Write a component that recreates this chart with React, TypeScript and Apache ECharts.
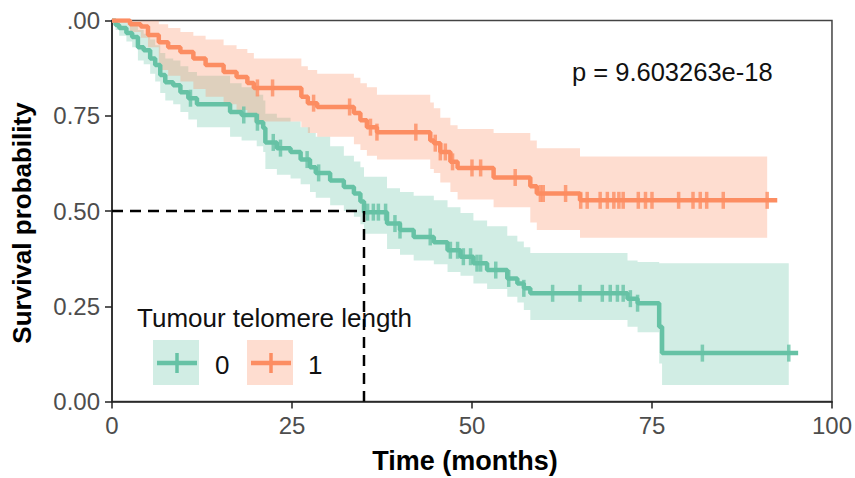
import React, { useEffect, useRef } from "react";
import * as echarts from "echarts";

// ---- Data ----
const xTicks = [0, 25, 50, 75, 100];
const yTicks = [0, 0.25, 0.5, 0.75, 1];

// Group 0 (green): step times, survival, CI upper / lower
const g0Time = [0, 0.5, 1.0, 2.0, 2.8, 3.6, 4.4, 5.3, 6.0, 6.7, 7.4, 8.5, 9.5, 10.6, 11.8, 16.4, 18.0, 20.1, 21.0, 21.3, 22.9, 24.8, 26.2, 27.5, 28.3, 30.3, 32.2, 33.6, 34.5, 35.0, 38.2, 40.0, 41.9, 44.7, 46.6, 48.4, 50.2, 52.1, 54.9, 56.3, 57.2, 58.1, 71.6, 73.0, 76.0, 76.4];
const g0Surv = [1.0, 0.988, 0.98, 0.967, 0.957, 0.93, 0.922, 0.9, 0.883, 0.857, 0.838, 0.83, 0.812, 0.796, 0.78, 0.76, 0.752, 0.733, 0.718, 0.68, 0.665, 0.655, 0.635, 0.615, 0.6, 0.58, 0.563, 0.546, 0.525, 0.497, 0.467, 0.45, 0.432, 0.418, 0.397, 0.38, 0.363, 0.345, 0.323, 0.31, 0.297, 0.284, 0.27, 0.258, 0.196, 0.127];
const g0Upper = [1.0, 1.0, 1.0, 0.995, 0.99, 0.975, 0.965, 0.95, 0.935, 0.915, 0.9, 0.895, 0.88, 0.865, 0.855, 0.835, 0.825, 0.805, 0.79, 0.755, 0.745, 0.735, 0.72, 0.705, 0.695, 0.67, 0.645, 0.63, 0.615, 0.59, 0.56, 0.55, 0.54, 0.528, 0.51, 0.495, 0.475, 0.46, 0.435, 0.42, 0.405, 0.39, 0.37, 0.366, 0.363, 0.363];
const g0Lower = [1.0, 0.975, 0.96, 0.945, 0.93, 0.895, 0.885, 0.86, 0.84, 0.81, 0.79, 0.78, 0.76, 0.74, 0.72, 0.695, 0.685, 0.67, 0.655, 0.61, 0.595, 0.585, 0.57, 0.55, 0.535, 0.515, 0.5, 0.485, 0.465, 0.44, 0.4, 0.385, 0.37, 0.36, 0.34, 0.33, 0.31, 0.295, 0.275, 0.26, 0.24, 0.214, 0.196, 0.182, 0.1, 0.043];
const g0LineEnd = 95.3;
const g0RibbonEnd = 94;
const g0Censor = [10.9, 18.3, 20.2, 22.4, 23.4, 27.1, 28.7, 35.5, 36.3, 37.0, 38.0, 39.3, 40.0, 44.2, 47.0, 48.0, 48.8, 49.8, 50.7, 51.2, 53.3, 55.1, 57.2, 61.2, 65.0, 68.1, 69.2, 70.2, 71.0, 72.0, 73.0, 82.0, 94.0];

// Group 1 (orange)
const g1Time = [0, 2.5, 4.0, 5.0, 6.5, 7.8, 9.5, 11.3, 13.0, 15.5, 17.3, 18.8, 19.7, 26.3, 27.2, 28.5, 33.6, 34.5, 35.4, 36.8, 44.2, 44.7, 45.6, 47.0, 48.0, 53.0, 58.1, 59.0, 65.0];
const g1Surv = [1.0, 0.99, 0.984, 0.962, 0.943, 0.93, 0.917, 0.9, 0.883, 0.865, 0.852, 0.836, 0.823, 0.8, 0.783, 0.773, 0.757, 0.738, 0.72, 0.707, 0.685, 0.678, 0.655, 0.629, 0.613, 0.588, 0.565, 0.546, 0.528];
const g1Upper = [1.0, 1.0, 1.0, 1.0, 0.99, 0.98, 0.97, 0.96, 0.95, 0.935, 0.925, 0.915, 0.9, 0.88, 0.87, 0.86, 0.85, 0.835, 0.825, 0.805, 0.785, 0.77, 0.745, 0.725, 0.715, 0.705, 0.685, 0.665, 0.643];
const g1Lower = [1.0, 0.97, 0.955, 0.93, 0.87, 0.855, 0.84, 0.82, 0.8, 0.78, 0.765, 0.75, 0.735, 0.72, 0.705, 0.695, 0.675, 0.66, 0.645, 0.635, 0.61, 0.6, 0.575, 0.55, 0.53, 0.51, 0.47, 0.45, 0.43];
const g1LineEnd = 92.4;
const g1RibbonEnd = 91;
const g1Censor = [20.2, 22.3, 28.0, 33.0, 35.9, 36.8, 42.2, 44.9, 45.6, 46.3, 47.3, 50.0, 51.2, 56.0, 59.5, 59.9, 63.0, 65.1, 66.0, 67.8, 68.8, 69.7, 70.4, 71.0, 73.1, 74.1, 75.0, 78.7, 80.7, 81.7, 82.6, 84.9, 91.0];

const medianTime = 35;
const medianSurv = 0.5;
const pText = "p = 9.603263e-18";
const legendTitle = "Tumour telomere length";
const groupLabels = ["0", "1"];

const GREEN = "#66C2A5";
const ORANGE = "#FC8D62";
const GREEN_FILL = "rgba(102,194,165,0.3)";
const ORANGE_FILL = "rgba(252,141,98,0.3)";
const FONT = "Liberation Sans, Arial, Helvetica, sans-serif";

function survAt(times: number[], surv: number[], t: number) {
  let v = surv[0];
  for (let i = 0; i < times.length; i++) {
    if (times[i] <= t) v = surv[i];
  }
  return v;
}

function lineData(times: number[], surv: number[], end: number) {
  const d = times.map((t, i) => [t, surv[i]]);
  d.push([end, surv[surv.length - 1]]);
  return d;
}

function ribbon(times: number[], up: number[], lo: number[], end: number, fill: string) {
  return {
    type: "custom",
    data: [[0, 0]],
    clip: true,
    silent: true,
    z: 1,
    renderItem: (_p: any, api: any) => {
      const pts: number[][] = [];
      for (let i = 0; i < times.length; i++) {
        const t1 = i + 1 < times.length ? times[i + 1] : end;
        pts.push(api.coord([times[i], up[i]]));
        pts.push(api.coord([t1, up[i]]));
      }
      for (let i = times.length - 1; i >= 0; i--) {
        const t1 = i + 1 < times.length ? times[i + 1] : end;
        pts.push(api.coord([t1, lo[i]]));
        pts.push(api.coord([times[i], lo[i]]));
      }
      return { type: "polygon", shape: { points: pts }, style: { fill } };
    },
  };
}

function kmLine(times: number[], surv: number[], end: number, color: string) {
  return {
    type: "line",
    step: "end",
    data: lineData(times, surv, end),
    showSymbol: false,
    silent: true,
    z: 2,
    lineStyle: { color, width: 4.5 },
  };
}

function censor(times: number[], surv: number[], cens: number[], color: string) {
  return {
    type: "scatter",
    data: cens.map((t) => [t, survAt(times, surv, t)]),
    symbol: "rect",
    symbolSize: [3.5, 17],
    silent: true,
    z: 3,
    itemStyle: { color },
  };
}

export default function App() {
  const ref = useRef<HTMLDivElement>(null);
  useEffect(() => {
    if (!ref.current) return;
    const chart = echarts.init(ref.current, undefined, { renderer: "svg" });
    const dash = { color: "#000", width: 2.5, type: [11, 7] };
    chart.setOption({
      animation: false,
      backgroundColor: "#fff",
      grid: {
        left: 112,
        right: 23,
        top: 20.5,
        bottom: 76.5,
        show: true,
        borderColor: "#444",
        borderWidth: 1.5,
        backgroundColor: "transparent",
      },
      xAxis: {
        type: "value",
        min: xTicks[0],
        max: xTicks[xTicks.length - 1],
        interval: 25,
        splitLine: { show: false },
        axisLine: { show: true, lineStyle: { color: "#222", width: 1.5 } },
        axisTick: { show: true, length: 7, lineStyle: { color: "#222", width: 1.5 } },
        axisLabel: { color: "#4D4D4D", fontSize: 24, fontFamily: FONT, margin: 12 },
      },
      yAxis: {
        type: "value",
        min: yTicks[0],
        max: yTicks[yTicks.length - 1],
        interval: 0.25,
        splitLine: { show: false },
        axisLine: { show: true, lineStyle: { color: "#222", width: 1.5 } },
        axisTick: { show: true, length: 7, lineStyle: { color: "#222", width: 1.5 } },
        axisLabel: {
          color: "#4D4D4D",
          fontSize: 24,
          fontFamily: FONT,
          margin: 12,
          formatter: (v: number) => (v === 1 ? ".00" : v.toFixed(2)),
        },
      },
      series: [
        ribbon(g0Time, g0Upper, g0Lower, g0RibbonEnd, GREEN_FILL),
        ribbon(g1Time, g1Upper, g1Lower, g1RibbonEnd, ORANGE_FILL),
        kmLine(g0Time, g0Surv, g0LineEnd, GREEN),
        kmLine(g1Time, g1Surv, g1LineEnd, ORANGE),
        censor(g0Time, g0Surv, g0Censor, GREEN),
        censor(g1Time, g1Surv, g1Censor, ORANGE),
        {
          type: "line",
          data: [[0, medianSurv], [medianTime, medianSurv]],
          showSymbol: false,
          silent: true,
          z: 4,
          lineStyle: dash,
        },
        {
          type: "line",
          data: [[medianTime, medianSurv], [medianTime, 0]],
          showSymbol: false,
          silent: true,
          z: 4,
          lineStyle: dash,
        },
      ],
      graphic: [
        {
          type: "text",
          x: 572,
          y: 72,
          style: { text: pText, fontSize: 25.5, fontFamily: FONT, fill: "#111", align: "left", verticalAlign: "middle" },
        },
        {
          type: "text",
          x: 465,
          y: 461,
          style: { text: "Time (months)", fontSize: 27, fontWeight: "bold", fontFamily: FONT, fill: "#000", align: "center", verticalAlign: "middle" },
        },
        {
          type: "text",
          x: 21.5,
          y: 223,
          rotation: Math.PI / 2,
          style: { text: "Survival probability", fontSize: 26, fontWeight: "bold", fontFamily: FONT, fill: "#000", align: "center", verticalAlign: "middle" },
        },
        {
          type: "text",
          x: 137,
          y: 318,
          style: { text: legendTitle, fontSize: 26, fontFamily: FONT, fill: "#111", align: "left", verticalAlign: "middle" },
        },
        { type: "rect", shape: { x: 153, y: 340, width: 46, height: 45 }, style: { fill: GREEN_FILL } },
        { type: "line", shape: { x1: 157, y1: 363, x2: 197, y2: 363 }, style: { stroke: GREEN, lineWidth: 4.5 } },
        { type: "line", shape: { x1: 177, y1: 353, x2: 177, y2: 373 }, style: { stroke: GREEN, lineWidth: 3.5 } },
        {
          type: "text",
          x: 215,
          y: 365,
          style: { text: groupLabels[0], fontSize: 26, fontFamily: FONT, fill: "#111", align: "left", verticalAlign: "middle" },
        },
        { type: "rect", shape: { x: 247, y: 340, width: 46, height: 45 }, style: { fill: ORANGE_FILL } },
        { type: "line", shape: { x1: 251, y1: 363, x2: 291, y2: 363 }, style: { stroke: ORANGE, lineWidth: 4.5 } },
        { type: "line", shape: { x1: 271, y1: 353, x2: 271, y2: 373 }, style: { stroke: ORANGE, lineWidth: 3.5 } },
        {
          type: "text",
          x: 308,
          y: 365,
          style: { text: groupLabels[1], fontSize: 26, fontFamily: FONT, fill: "#111", align: "left", verticalAlign: "middle" },
        },
      ],
    });
    return () => chart.dispose();
  }, []);
  return (
    <div
      ref={ref}
      style={{ position: "fixed", left: 0, top: 0, width: 855, height: 478, background: "#fff" }}
    />
  );
}
